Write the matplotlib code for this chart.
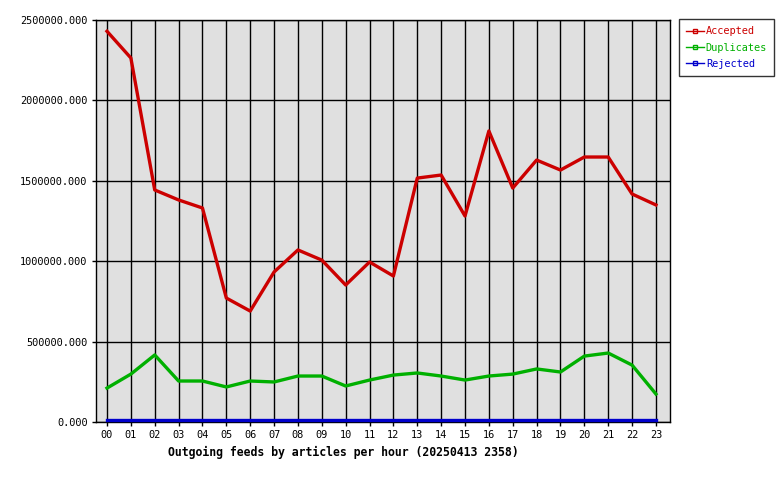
import matplotlib
matplotlib.use('Agg')
import matplotlib.pyplot as plt
import matplotlib.transforms as mtransforms
from matplotlib.lines import Line2D
from matplotlib.ticker import MultipleLocator, FuncFormatter

hours = ['00', '01', '02', '03', '04', '05', '06', '07', '08', '09', '10', '11',
         '12', '13', '14', '15', '16', '17', '18', '19', '20', '21', '22', '23']
accepted = [2430000, 2264000, 1443000, 1381000, 1331000, 771000, 690000, 933000,
            1070000, 1007000, 852000, 995000, 908000, 1517000, 1536000, 1281000,
            1810000, 1455000, 1629000, 1567000, 1648000, 1648000, 1418000, 1350000]
duplicates = [211000, 298000, 417000, 255000, 255000, 218000, 255000, 249000,
              286000, 286000, 224000, 261000, 292000, 305000, 286000, 261000,
              286000, 298000, 330000, 311000, 410000, 429000, 354000, 174000]
rejected = [0] * 24

RED = '#cc0000'
GREEN = '#00b000'
BLUE = '#0000cc'
FONT = 'DejaVu Sans Mono'

fig = plt.figure(figsize=(7.8, 4.8), dpi=100)
ax = fig.add_axes([0.1231, 0.1208, 0.7359, 0.8375])
ax.set_facecolor('#e0e0e0')

x = list(range(len(hours)))
ax.plot(x, accepted, color=RED, lw=2.4, zorder=3)
ax.plot(x, duplicates, color=GREEN, lw=2.4, zorder=3)
# rejected sits just above the axis line, as in the original renderer
shift = mtransforms.offset_copy(ax.transData, fig=fig, x=0, y=2.2, units='dots')
ax.plot(x, rejected, color=BLUE, lw=2.4, zorder=3, clip_on=False, transform=shift)

ax.set_xlim(-0.46, 23.59)
ax.set_ylim(0, 2500000)
ax.set_xticks(x)
ax.set_xticklabels(hours, fontsize=7.4, family=FONT)
ax.yaxis.set_major_locator(MultipleLocator(500000))
ax.yaxis.set_major_formatter(FuncFormatter(lambda v, p: f'{v:.3f}'))
for lab in ax.get_yticklabels():
    lab.set_family(FONT)
    lab.set_fontsize(7.4)
ax.tick_params(length=3, width=1, direction='out', pad=3)
ax.grid(True, color='black', lw=1, zorder=1)
ax.set_axisbelow(True)
for s in ax.spines.values():
    s.set_linewidth(1)
    s.set_zorder(2.5)

ax.set_xlabel('Outgoing feeds by articles per hour (20250413 2358)',
              fontsize=8.3, fontweight='bold', family=FONT)
ax.xaxis.set_label_coords(0.43, -0.06)

handles = [Line2D([], [], color=c, lw=1, marker='s', markersize=3,
                  markerfacecolor='none', markeredgecolor=c)
           for c in (RED, GREEN, BLUE)]
leg = fig.legend(handles, ['Accepted', 'Duplicates', 'Rejected'],
                 loc='upper left', bbox_to_anchor=(0.870, 0.960),
                 prop={'family': FONT, 'size': 7.4}, frameon=True, fancybox=False,
                 edgecolor='black', handlelength=1.8, handletextpad=0.15,
                 labelspacing=0.6, borderpad=0.7, borderaxespad=0)
leg.get_frame().set_linewidth(1)
for t, c in zip(leg.get_texts(), (RED, GREEN, BLUE)):
    t.set_color(c)

fig.savefig('out.png', dpi=100, facecolor='white')
